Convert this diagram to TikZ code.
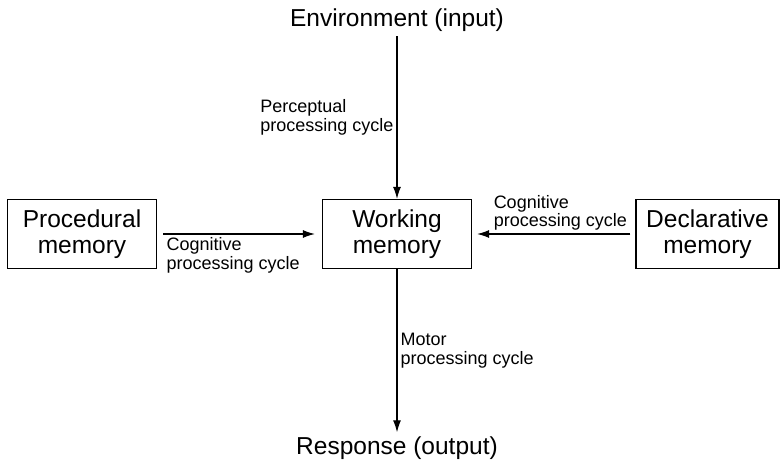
\documentclass[tikz,border=0pt]{standalone}
\usepackage{fontspec}
\setmainfont{Liberation Sans}
\usetikzlibrary{arrows.meta}

\begin{document}
\begin{tikzpicture}[
                        x=1pt, y=-1pt,
                        >={Latex[length=12pt,width=8pt]},
                        line width=1.2pt,
                        block/.style={rectangle, draw, minimum height=69pt, minimum width=149pt, align=center, font=\fontsize{24.5}{26}\selectfont},
                        bigtext/.style={font=\fontsize{24.5}{26}\selectfont},
                        cyclelabel/.style={align=left, inner sep=3pt, font=\fontsize{18}{18.5}\selectfont}
                    ]
                    \useasboundingbox (0,0) rectangle (781,460);
                    % Blocks
                    \node [bigtext, anchor=base] (env) at (397,27) {Environment (input)};
                    \node [block] (proc) at (82,234) {Procedural\\memory};
                    \node [block] (work) at (397,234) {Working\\memory};
                    \node [block, minimum width=143pt] (decl) at (707.5,234) {Declarative\\memory};
                    \node [bigtext, anchor=base] (resp) at (397,454) {Response (output)};

                    % Connections
                    \draw [->] (env) --node[left, cyclelabel]{Perceptual\\processing cycle} (work);
                    \draw [->] ([xshift=6pt]proc.east) --node[pos=0, below right, cyclelabel]{Cognitive\\processing cycle} ([xshift=-7pt]work.west);
                    \draw [->] ([xshift=-5pt]decl.west) --node[pos=0, above left, cyclelabel]{Cognitive\\processing cycle} ([xshift=5pt]work.east);
                    \draw [->] (work) --node[right, cyclelabel]{Motor\\processing cycle} (resp);
                \end{tikzpicture}
\end{document}
